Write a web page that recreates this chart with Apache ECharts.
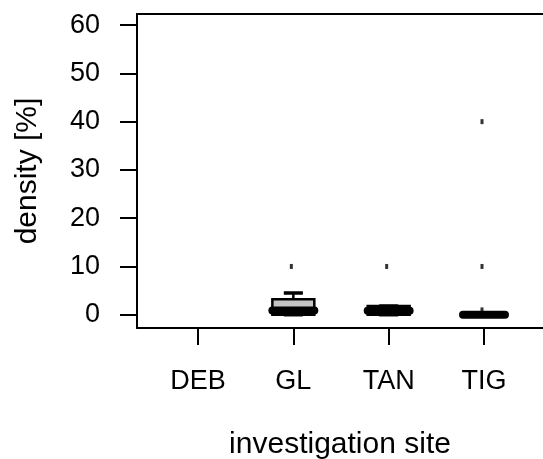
<!DOCTYPE html>
<html>
<head>
<meta charset="utf-8">
<script src="https://cdn.jsdelivr.net/npm/echarts@6/dist/echarts.min.js"></script>
<style>html,body{margin:0;padding:0;background:#fff}#c{width:543px;height:459px}</style>
</head>
<body>
<div id="c"></div>
<script>
// Sites on the x axis
var categories = ['DEB', 'GL', 'TAN', 'TIG'];
// Box statistics per site: [lower whisker, Q1, median, Q3, upper whisker] (null = no data)
var boxStats = [
  null,
  [0, 0, 0.9, 3.2, 4.5],
  [0, 0, 0.8, 1.8, 1.8],
  [0, 0, 0, 0, 0]
];
// Outliers per site
var outlierValues = [
  [],
  [10],
  [10],
  [1, 10, 40]
];
var yTicks = [0, 10, 20, 30, 40, 50, 60];
var xTicks = [1, 2, 3, 4];

var boxData = [];
boxStats.forEach(function (s, i) {
  if (s) boxData.push([i + 1].concat(s));
});
var outData = [];
outlierValues.forEach(function (arr, i) {
  arr.forEach(function (v) { outData.push([i + 1, v]); });
});

var chart = echarts.init(document.getElementById('c'), null, {renderer: 'canvas'});
var font = '"Liberation Sans", Arial, sans-serif';
var xMin = 0.36, xMax = 4.619;
var option = {
  animation: false,
  backgroundColor: '#fff',
  grid: {left: 137, top: 14, right: 0, bottom: 131, show: false, containLabel: false, outerBoundsMode: 'none'},
  xAxis: [{
    type: 'value', min: xMin, max: xMax,
    name: 'investigation site', nameLocation: 'middle', nameGap: 102,
    nameTextStyle: {fontFamily: font, fontSize: 30, color: '#000'},
    axisLine: {show: true, onZero: false, lineStyle: {color: '#000', width: 2}},
    axisTick: {show: true, customValues: xTicks, length: 17, lineStyle: {color: '#000', width: 2}},
    axisLabel: {show: true, customValues: xTicks, margin: 40, fontFamily: font, fontSize: 27, color: '#000',
      formatter: function (v) { return categories[Math.round(v) - 1] || ''; }},
    splitLine: {show: false}
  }, {
    type: 'value', min: xMin, max: xMax, position: 'top',
    axisLine: {show: true, onZero: false, lineStyle: {color: '#000', width: 2}},
    axisTick: {show: false}, axisLabel: {show: false}, splitLine: {show: false}
  }],
  yAxis: {
    type: 'value', min: -2.75, max: 62.3,
    name: 'density [%]', nameLocation: 'middle', nameGap: 94,
    nameTextStyle: {fontFamily: font, fontSize: 30, color: '#000'},
    axisLine: {show: true, onZero: false, lineStyle: {color: '#000', width: 2}},
    axisTick: {show: true, customValues: yTicks, length: 17, lineStyle: {color: '#000', width: 2}},
    axisLabel: {show: true, customValues: yTicks, margin: 37, fontFamily: font, fontSize: 27, color: '#000',
      padding: [4, 0, 0, 0]},
    splitLine: {show: false}
  },
  series: [
    {
      type: 'custom',
      data: boxData,
      renderItem: function (params, api) {
        var x = api.value(0);
        var lo = api.value(1), q1 = api.value(2), med = api.value(3), q3 = api.value(4), hi = api.value(5);
        var hw = 0.22, sw = 0.1;
        var pL = api.coord([x - hw, q1]), pR = api.coord([x + hw, q3]);
        var pc = function (v) { return api.coord([x, v]); };
        var cHi = pc(hi), cQ3 = pc(q3), cQ1 = pc(q1), cLo = pc(lo), cMed = pc(med);
        var sL = api.coord([x - sw, 0])[0], sR = api.coord([x + sw, 0])[0];
        var ls = {stroke: '#000', lineWidth: 2.5};
        var children = [
          {type: 'line', shape: {x1: cHi[0], y1: cHi[1], x2: cQ3[0], y2: cQ3[1]}, style: ls},
          {type: 'line', shape: {x1: cLo[0], y1: cLo[1], x2: cQ1[0], y2: cQ1[1]}, style: ls},
          {type: 'line', shape: {x1: sL, y1: cHi[1], x2: sR, y2: cHi[1]}, style: {stroke: '#000', lineWidth: 3.5}},
          {type: 'line', shape: {x1: sL, y1: cLo[1], x2: sR, y2: cLo[1]}, style: {stroke: '#000', lineWidth: 3.5}},
          {type: 'rect', shape: {x: pL[0], y: pR[1], width: pR[0] - pL[0], height: pL[1] - pR[1]},
            style: {fill: '#c4c4c4', stroke: '#000', lineWidth: 2.5}},
          {type: 'line', shape: {x1: pL[0], y1: cMed[1], x2: pR[0], y2: cMed[1]},
            style: {stroke: '#000', lineWidth: 8, lineCap: 'round'}}
        ];
        return {type: 'group', children: children};
      },
      z: 3
    },
    {
      type: 'scatter',
      data: outData,
      symbol: 'rect',
      symbolSize: [3, 5],
      symbolOffset: [-2, 0],
      itemStyle: {color: '#000'},
      z: 4
    }
  ]
};
chart.setOption(option);
</script>
</body>
</html>
